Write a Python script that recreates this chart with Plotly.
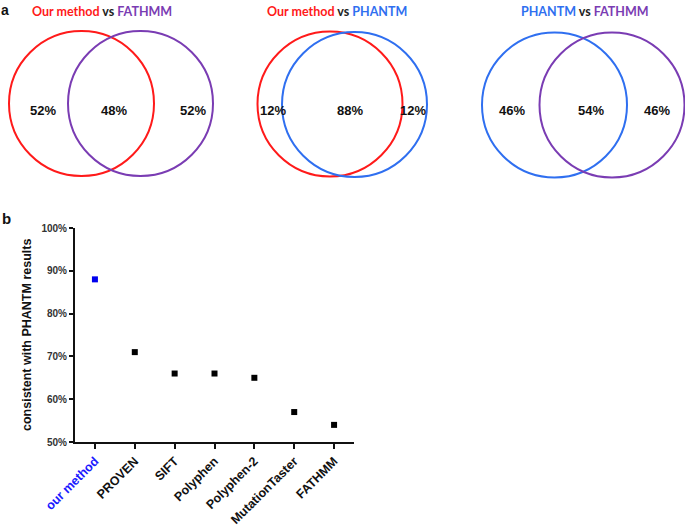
import plotly.graph_objects as go

# ---- data ----
venn_titles = [("Our method", "FATHMM"), ("Our method", "PHANTM"), ("PHANTM", "FATHMM")]
venn_left = [52, 12, 46]
venn_mid = [48, 88, 54]
venn_right = [52, 12, 46]

methods = ["our method", "PROVEN", "SIFT", "Polyphen", "Polyphen-2", "MutationTaster", "FATHMM"]
consistency = [88, 71, 66, 66, 65, 57, 54]
y_ticks = [50, 60, 70, 80, 90, 100]
y_ticklabels = ["50%", "60%", "70%", "80%", "90%", "100%"]

# ---- styles ----
RED = "#ff1a1a"
BLUE = "#2f6ff0"
PURPLE = "#7a3cb3"
name_color = {"Our method": RED, "PHANTM": BLUE, "FATHMM": PURPLE}

W, H = 685, 529


def px(x):
    return x / W


def py(y):
    return 1 - y / H


fig = go.Figure()

marker_colors = ["#0000ee"] + ["#000000"] * (len(methods) - 1)
fig.add_trace(go.Scatter(
    x=list(range(len(methods))), y=consistency, mode="markers",
    marker=dict(symbol="square", size=6, color=marker_colors),
    showlegend=False, hoverinfo="skip"))

ticktext = ['<span style="color:#1a1aff">our method</span>'] + methods[1:]

# venn geometry (layout only, pixel positions)
centers = [((81.5, 103.5), (140.5, 103.5)),
           ((330, 104), (354.5, 104.5)),
           ((554.5, 105), (612, 105))]
radius = 72.5
title_x = [102, 337, 585]
lab_x = [(43, 114, 193), (273, 350, 413), (512, 591, 657)]

shapes = []
annotations = []
for i, ((c1, c2), (n1, n2)) in enumerate(zip(centers, venn_titles)):
    for c, n in ((c1, n1), (c2, n2)):
        shapes.append(dict(type="circle", xref="paper", yref="paper",
                           x0=px(c[0] - radius), x1=px(c[0] + radius),
                           y0=py(c[1] + radius), y1=py(c[1] - radius),
                           line=dict(color=name_color[n], width=2)))
    annotations.append(dict(
        xref="paper", yref="paper", x=px(title_x[i]), y=py(11.5), showarrow=False,
        xanchor="center", yanchor="middle",
        text=(f'<span style="color:{name_color[n1]}"><b>{n1}</b></span>'
              f'<b> vs </b>'
              f'<span style="color:{name_color[n2]}"><b>{n2}</b></span>'),
        font=dict(family="Lato, Liberation Sans, sans-serif", size=12.5, color="#222")))
    for xx, val in zip(lab_x[i], (venn_left[i], venn_mid[i], venn_right[i])):
        annotations.append(dict(xref="paper", yref="paper", x=px(xx), y=py(110),
                                xanchor="center", yanchor="middle", showarrow=False,
                                text=f"<b>{val}%</b>",
                                font=dict(family="Liberation Sans, Arial", size=13, color="#111")))

annotations.append(dict(xref="paper", yref="paper", x=px(5), y=1, showarrow=False,
                        xanchor="center", yanchor="top", text="<b>a</b>",
                        font=dict(family="Liberation Sans, Arial", size=14, color="#111")))
annotations.append(dict(xref="paper", yref="paper", x=px(6), y=py(219), showarrow=False,
                        xanchor="center", yanchor="middle", text="<b>b</b>",
                        font=dict(family="Liberation Sans, Arial", size=15, color="#111")))
annotations.append(dict(xref="paper", yref="paper", x=px(27), y=py(335), showarrow=False,
                        xanchor="center", yanchor="middle", textangle=-90,
                        text="<b>consistent with PHANTM results</b>",
                        font=dict(family="Liberation Sans, Arial", size=12.5, color="#111")))

fig.update_layout(
    width=W, height=H, margin=dict(l=0, r=0, t=0, b=0, autoexpand=False),
    paper_bgcolor="white", plot_bgcolor="rgba(0,0,0,0)",
    shapes=shapes, annotations=annotations,
    xaxis=dict(domain=[75 / W, 354 / W], range=[-0.5, 6.5], automargin=False,
               tickmode="array", tickvals=list(range(len(methods))), ticktext=ticktext,
               tickangle=-45, ticks="outside", ticklen=5, tickwidth=2, tickcolor="#111",
               showline=True, linecolor="#111", linewidth=2, showgrid=False, zeroline=False,
               tickfont=dict(family="Liberation Sans, Arial", size=12.5, color="#111", weight="bold")),
    yaxis=dict(domain=[1 - 442 / H, 1 - 228 / H], range=[50, 100], automargin=False,
               tickmode="array", tickvals=y_ticks, ticktext=y_ticklabels,
               ticks="outside", ticklen=4, tickwidth=2, tickcolor="#111",
               showline=True, linecolor="#111", linewidth=2, showgrid=False, zeroline=False,
               tickfont=dict(family="Liberation Sans Narrow, Liberation Sans, Arial", size=10,
                             color="#333", weight="bold")),
)

fig.write_html("out.html", config={"displayModeBar": False},
               post_script="document.body.style.margin='0';")
